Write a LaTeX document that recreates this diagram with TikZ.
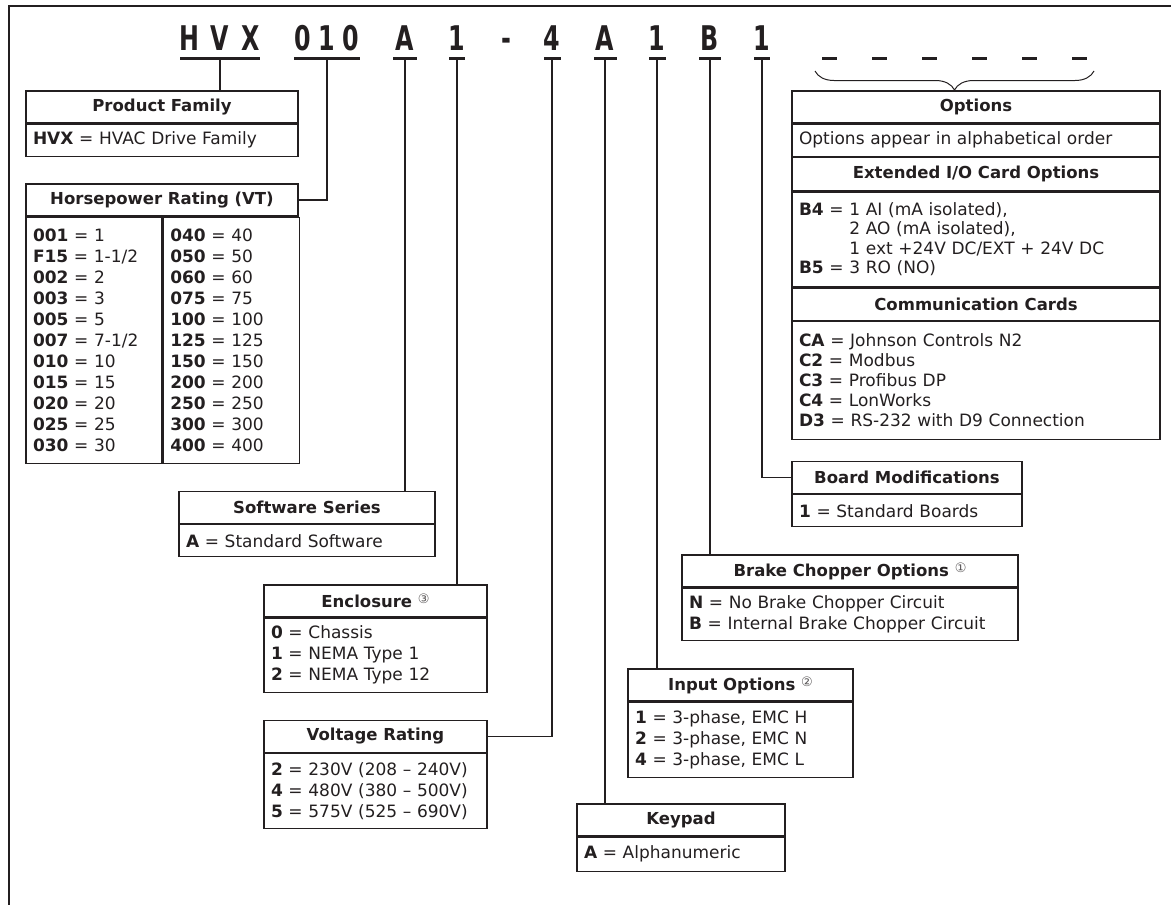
\documentclass[tikz,border=0pt]{standalone}
\usepackage{fontspec}
\setmainfont{DejaVu Sans}
\newfontfamily\codefont[FakeStretch=0.7]{DejaVu Sans}
\usepackage{tikz}
\usetikzlibrary{positioning,decorations.pathreplacing}

\definecolor{ink}{HTML}{231F20}
\newcommand{\fnmark}[1]{\raisebox{4pt}{\mdseries\fontsize{13}{13}\selectfont\color{ink!75}#1}}

\begin{document}
\begin{tikzpicture}[x=1pt, y=-1pt,
    hdr/.style={draw=ink, line width=1.3pt, inner sep=0pt, minimum height=32pt, text=ink, font=\bfseries\fontsize{16.5}{20}\selectfont},
    cell/.style={draw=ink, line width=1.3pt, inner xsep=7pt, inner ysep=0pt, align=left, text=ink, font=\fontsize{17}{21}\selectfont},
    code/.style={inner sep=0pt, anchor=base, text=ink, font=\codefont\bfseries\fontsize{34}{34}\selectfont},
    ubar/.style={fill=ink, inner sep=0pt, minimum height=3pt},
    wire/.style={draw=ink, line width=1.2pt}
  ]
    \useasboundingbox (0,0) rectangle (1171,905);
    \draw[wire] (9,905) -- (9,6) -- (1171,6);

    % catalog number
    \node[code] (cH) at (189,50) {H};
    \node[code] (cV) at (220,50) {V};
    \node[code] (cX) at (251,50) {X};
    \node[code] (r1) at (303,50) {0};
    \node[code] (r2) at (327,50) {1};
    \node[code] (r3) at (351,50) {0};
    \node[code] (ser) at (405,50) {A};
    \node[code] (enc) at (457,50) {1};
    \node[code] (dsh) at (506,50) {-};
    \node[code] (vol) at (552,50) {4};
    \node[code] (kpd) at (605,50) {A};
    \node[code] (inp) at (657,50) {1};
    \node[code] (brk) at (710,50) {B};
    \node[code] (brd) at (762,50) {1};

    \node[ubar, minimum width=80pt] (u1) at (220,58.5) {};
    \node[ubar, minimum width=66pt] (u2) at (327,58.5) {};
    \node[ubar, minimum width=24pt] (u3) at (405,58.5) {};
    \node[ubar, minimum width=16pt] (u4) at (457,58.5) {};
    \node[ubar, minimum width=17pt] (u5) at (552,58.5) {};
    \node[ubar, minimum width=23pt] (u6) at (605,58.5) {};
    \node[ubar, minimum width=17pt] (u7) at (657,58.5) {};
    \node[ubar, minimum width=22pt] (u8) at (710,58.5) {};
    \node[ubar, minimum width=16pt] (u9) at (762,58.5) {};
    \foreach \i [count=\k] in {829,879,...,1079}
      \node[ubar, minimum width=15pt] (d\k) at (\i,58.5) {};

    % boxes
    \node[hdr, minimum width=272pt] (pf) at (162,107) {Product Family};
    \node[cell, text width=258pt, minimum height=32pt, below=0pt of pf] (pfb) {\textbf{HVX} = HVAC Drive Family};

    \node[hdr, minimum width=272pt] (hp) at (162,200) {Horsepower Rating (VT)};
    \node[cell, text width=122pt, minimum height=246pt, anchor=north west] (hpa) at (hp.south west)
      {\textbf{001} = 1\\\textbf{F15} = 1-1/2\\\textbf{002} = 2\\\textbf{003} = 3\\\textbf{005} = 5\\\textbf{007} = 7-1/2\\\textbf{010} = 10\\\textbf{015} = 15\\\textbf{020} = 20\\\textbf{025} = 25\\\textbf{030} = 30};
    \node[cell, text width=122pt, minimum height=246pt, anchor=north west] (hpb) at (hpa.north east)
      {\textbf{040} = 40\\\textbf{050} = 50\\\textbf{060} = 60\\\textbf{075} = 75\\\textbf{100} = 100\\\textbf{125} = 125\\\textbf{150} = 150\\\textbf{200} = 200\\\textbf{250} = 250\\\textbf{300} = 300\\\textbf{400} = 400};

    \node[hdr, minimum width=256pt] (ss) at (307,507.5) {Software Series};
    \node[cell, text width=242pt, minimum height=32pt, below=0pt of ss] (ssb) {\textbf{A} = Standard Software};

    \node[hdr, minimum width=223pt] (en) at (375.5,601) {Enclosure \fnmark{③}};
    \node[cell, text width=209pt, minimum height=74pt, below=0pt of en] (enb)
      {\textbf{0} = Chassis\\\textbf{1} = NEMA Type 1\\\textbf{2} = NEMA Type 12};

    \node[hdr, minimum width=223pt] (vr) at (375.5,736.5) {Voltage Rating};
    \node[cell, text width=209pt, minimum height=75pt, below=0pt of vr] (vrb)
      {\textbf{2} = 230V (208 – 240V)\\\textbf{4} = 480V (380 – 500V)\\\textbf{5} = 575V (525 – 690V)};

    \node[hdr, minimum width=208pt] (kp) at (681,820) {Keypad};
    \node[cell, text width=194pt, minimum height=34pt, below=0pt of kp] (kpb) {\textbf{A} = Alphanumeric};

    \node[hdr, minimum width=225pt] (io) at (740.5,685) {Input Options \fnmark{②}};
    \node[cell, text width=211pt, minimum height=75pt, below=0pt of io] (iob)
      {\textbf{1} = 3-phase, EMC H\\\textbf{2} = 3-phase, EMC N\\\textbf{4} = 3-phase, EMC L};

    \node[hdr, minimum width=336pt] (bc) at (850,571) {Brake Chopper Options \fnmark{①}};
    \node[cell, text width=322pt, minimum height=52pt, below=0pt of bc] (bcb)
      {\textbf{N} = No Brake Chopper Circuit\\\textbf{B} = Internal Brake Chopper Circuit};

    \node[hdr, minimum width=230pt] (bm) at (907,477.5) {Board Modifications};
    \node[cell, text width=216pt, minimum height=32pt, below=0pt of bm] (bmb) {\textbf{1} = Standard Boards};

    \node[hdr, minimum width=368pt] (op) at (976,107) {Options};
    \node[cell, text width=354pt, minimum height=32pt, below=0pt of op] (opb) {Options appear in alphabetical order};
    \node[hdr, minimum width=368pt, minimum height=33pt, below=0pt of opb] (ex) {Extended I/O Card Options};
    \node[cell, text width=354pt, minimum height=95pt, below=0pt of ex, font=\fontsize{17}{19.5}\selectfont] (exb)
      {\textbf{B4} = 1 AI (mA isolated),\\\phantom{\textbf{B4} = }2 AO (mA isolated),\\\phantom{\textbf{B4} = }1 ext +24V DC/EXT + 24V DC\\\textbf{B5} = 3 RO (NO)};
    \node[hdr, minimum width=368pt, below=0pt of exb] (cc) {Communication Cards};
    \node[cell, text width=354pt, minimum height=118pt, below=0pt of cc, font=\fontsize{17}{20}\selectfont] (ccb)
      {\textbf{CA} = Johnson Controls N2\\\textbf{C2} = Modbus\\\textbf{C3} = Profibus DP\\\textbf{C4} = LonWorks\\\textbf{D3} = RS-232 with D9 Connection};

    % leaders
    \draw[wire] (u1.south) -- (u1.south |- pf.north);
    \draw[wire] (u2.south) |- (hp.east);
    \draw[wire] (u3.south) -- (u3.south |- ss.north);
    \draw[wire] (u4.south) -- (u4.south |- en.north);
    \draw[wire] (u5.south) |- (vr.east);
    \draw[wire] (u6.south) -- (u6.south |- kp.north);
    \draw[wire] (u7.south) -- (u7.south |- io.north);
    \draw[wire] (u8.south) -- (u8.south |- bc.north);
    \draw[wire] (u9.south) |- (bm.west);
    \coordinate (br1) at (815,71);
    \coordinate (br2) at (1094,71);
    \draw[wire, line width=1pt, decorate, decoration={brace, mirror, amplitude=19pt}] (br1) -- (br2);
\end{tikzpicture}
\end{document}
